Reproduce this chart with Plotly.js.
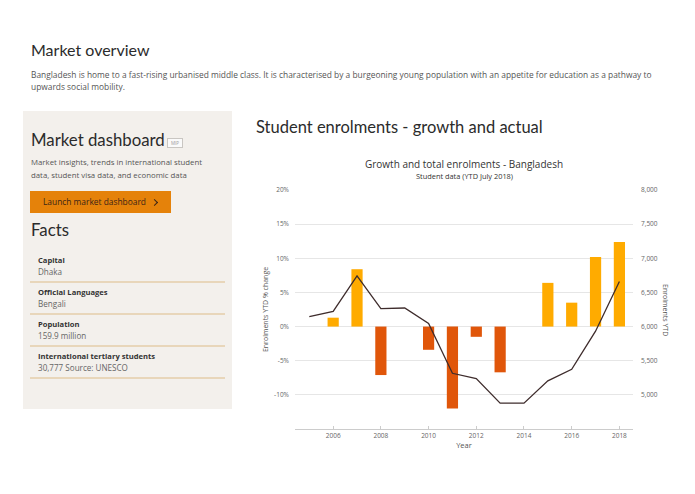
<!DOCTYPE html>
<html><head><meta charset="utf-8">
<script src="https://cdn.plot.ly/plotly-3.0.1.min.js"></script>
<style>
html,body{margin:0;padding:0;background:#fff;}
body{width:695px;height:494px;overflow:hidden;position:relative;font-family:"Open Sans","Noto Sans",sans-serif;color:#333;}
.a{position:absolute;white-space:nowrap;}
.h1{font-family:Lato,sans-serif;font-size:16.8px;line-height:20px;color:#2b2b2b;}
.p{font-size:8.4px;line-height:12px;color:#555;}
.box{position:absolute;left:23px;top:111px;width:209px;height:298px;background:#f3f0ec;}
.badge{position:absolute;left:167px;top:138px;width:14px;height:8px;border:1px solid #c9c6c2;background:#fafafa;font-size:4.5px;line-height:8px;text-align:center;color:#999;}
.btn{position:absolute;left:30px;top:191px;width:141px;height:22px;background:#e5820a;}
.btntx{position:absolute;left:13px;top:0;font-size:8.4px;line-height:22px;color:#3a2417;white-space:nowrap;}
.chev{position:absolute;left:122px;top:8.5px;width:4px;height:4px;border-right:1.5px solid #3a2417;border-top:1.5px solid #3a2417;transform:rotate(45deg);}
.lab{font-size:7.6px;line-height:10px;font-weight:bold;color:#333;}
.val{font-size:8.1px;line-height:10px;color:#666;}
.rule{position:absolute;left:30px;width:195px;height:2px;background:#e8d6ba;}
#chart{position:absolute;left:250px;top:140px;width:440px;height:320px;}
</style></head><body>
<div class="a h1" style="left:31px;top:40px;font-size:16px;">Market overview</div>
<div class="a p" style="left:31px;top:69px;">Bangladesh is home to a fast-rising urbanised middle class. It is characterised by a burgeoning young population with an appetite for education as a pathway to<br>upwards social mobility.</div>

<div class="box"></div>
<div class="a h1" style="left:31px;top:130px;">Market dashboard</div>
<div class="badge">MIP</div>
<div class="a p" style="left:31px;top:156px;line-height:13px;font-size:7.8px;">Market insights, trends in international student<br>data, student visa data, and economic data</div>
<div class="btn"><span class="btntx">Launch market dashboard</span><span class="chev"></span></div>
<div class="a h1" style="left:31px;top:220px;">Facts</div>

<div class="a lab" style="left:38px;top:255px;">Capital</div>
<div class="a val" style="left:38px;top:267px;">Dhaka</div>
<div class="rule" style="top:281px;"></div>
<div class="a lab" style="left:38px;top:287px;">Official Languages</div>
<div class="a val" style="left:38px;top:299px;">Bengali</div>
<div class="rule" style="top:313px;"></div>
<div class="a lab" style="left:38px;top:319px;">Population</div>
<div class="a val" style="left:38px;top:331px;">159.9 million</div>
<div class="rule" style="top:345px;"></div>
<div class="a lab" style="left:38px;top:351px;">International tertiary students</div>
<div class="a val" style="left:38px;top:363px;">30,777 Source: UNESCO</div>
<div class="rule" style="top:377px;"></div>

<div class="a h1" style="left:256px;top:117px;font-size:16.5px;">Student enrolments - growth and actual</div>

<div id="chart"></div>
<script>
const years = [2005, 2006, 2007, 2008, 2009, 2010, 2011, 2012, 2013, 2014, 2015, 2016, 2017, 2018];
const growthPct = [null, 1.3, 8.4, -7.1, 0, -3.4, -12.0, -1.5, -6.7, 0, 6.4, 3.5, 10.2, 12.4];
const enrolmentsYTD = [6145, 6223, 6742, 6262, 6272, 6044, 5316, 5239, 4879, 4879, 5205, 5374, 5932, 6659];
const pctTickVals = [-10, -5, 0, 5, 10, 15, 20];
const pctTickText = ['-10%', '-5%', '0%', '5%', '10%', '15%', '20%'];
const enrTickVals = [5000, 5500, 6000, 6500, 7000, 7500, 8000];
const enrTickText = ['5,000', '5,500', '6,000', '6,500', '7,000', '7,500', '8,000'];
const xTickVals = [2006, 2008, 2010, 2012, 2014, 2016, 2018];

const POS = '#ffab00', NEG = '#e0560a';
const barColors = growthPct.map(v => (v !== null && v < 0) ? NEG : POS);
const F = '"Open Sans", "DejaVu Sans", sans-serif';

const traces = [
  {type:'bar', x:years, y:growthPct, width:0.47, marker:{color:barColors}, yaxis:'y', name:'Growth', hoverinfo:'skip'},
  {type:'scatter', mode:'lines', x:years, y:enrolmentsYTD, yaxis:'y2', line:{color:'#3e2c2c', width:1.3}, name:'Enrolments', hoverinfo:'skip'}
];
const layout = {
  width:440, height:320,
  margin:{l:45, r:57, t:50, b:31},
  paper_bgcolor:'rgba(0,0,0,0)', plot_bgcolor:'rgba(0,0,0,0)',
  showlegend:false,
  font:{family:F, color:'#666', size:6.5},
  title:{text:'Growth and total enrolments - Bangladesh', font:{family:F, size:10, color:'#333'},
         x:0.5, xref:'paper', xanchor:'center', y:1-24/320, yref:'container', yanchor:'middle'},
  xaxis:{range:[2004.4, 2018.57], tickvals:xTickVals, ticks:'inside', ticklen:3, tickcolor:'#ccc',
         showline:true, linecolor:'#ccc', linewidth:1, showgrid:false, zeroline:false,
         tickfont:{size:6.5, color:'#666'},
         title:{text:'Year', font:{size:7.5, color:'#555'}, standoff:2}},
  yaxis:{range:[-15, 20], tickvals:pctTickVals, ticktext:pctTickText, showgrid:true, gridcolor:'#e6e6e6',
         zeroline:false, showline:false, ticks:'', ticklabelstandoff:5,
         tickfont:{size:6.5, color:'#666'},
         title:{text:'Enrolments YTD % change', font:{size:7, color:'#555'}, standoff:4}},
  yaxis2:{range:[4500, 8000], overlaying:'y', side:'right', tickvals:enrTickVals, ticktext:enrTickText,
          showgrid:false, zeroline:false, showline:false, ticks:'', ticklabelstandoff:7,
          tickfont:{size:6.5, color:'#666'}},
  annotations:[
    {text:'Student data (YTD July 2018)', xref:'paper', yref:'paper', x:0.5, y:1+14/239, xanchor:'center', yanchor:'middle',
     showarrow:false, font:{family:F, size:7.4, color:'#333'}},
    {text:'Enrolments YTD', xref:'paper', yref:'paper', x:1+32.5/338, y:0.5, xanchor:'center', yanchor:'middle',
     textangle:90, showarrow:false, font:{family:F, size:7, color:'#555'}}
  ],
  bargap:0.5
};
Plotly.newPlot('chart', traces, layout, {displayModeBar:false, staticPlot:true});
</script>
</body></html>
